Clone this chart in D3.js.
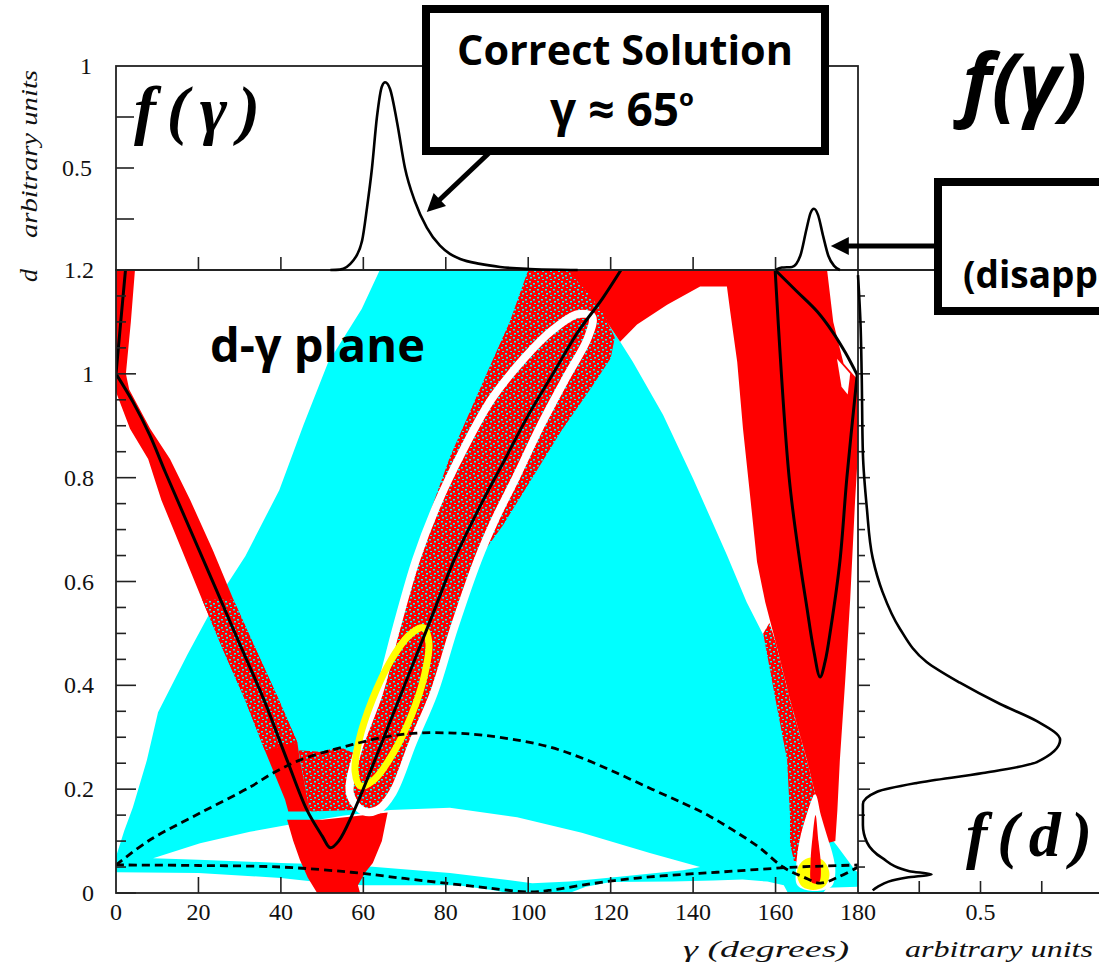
<!DOCTYPE html>
<html>
<head>
<meta charset="utf-8">
<script src="https://cdn.jsdelivr.net/npm/d3@7"></script>
<style>
  body { margin: 0; background: #fff; }
  svg { display: block; }
</style>
</head>
<body>
<div id="svg-holder"></div>
<script>
let width = 1099,
    height = 966

let svg = d3.select("#svg-holder").append('svg')
    .attr("width", width)
    .attr("height", height)

// ---------- data (gamma in degrees, d) ----------
const gammaTicks = [0, 20, 40, 60, 80, 100, 120, 140, 160, 180]
const dTicks = [0, 0.2, 0.4, 0.6, 0.8, 1, 1.2]
const fTopTicks = [0.5, 1]
const fRightTicks = [0.5]

// cyan allowed region
const cyanRegion = [[64,1.2],[108,1.2],[112,1.16],[117.4,1.12],[122.3,1.062],[125.4,1.023],[132.7,0.921],[140,0.798],
    [148.2,0.651],[153,0.56],[157.5,0.49],[161.9,0.41],[165,0.32],[168,0.24],[170.5,0.16],[172.5,0.115],[175,0.09],
    [179.3,0.044],[180,0.04],[180,0],[0,0],[0,0.07],[2,0.12],[4.1,0.165],[7.5,0.256],[10.2,0.348],[17.3,0.459],
    [24.3,0.562],[31.4,0.649],[39.6,0.776],[45.5,0.902],[51.4,1.021],[59.6,1.125]]
// white holes inside the cyan region
const whiteArch = [[9,0.067],[20.4,0.096],[32.5,0.118],[41.5,0.131],[55,0.149],[66.5,0.16],[81,0.164],[97.3,0.146],
    [113,0.116],[129.5,0.077],[141.7,0.05],[137.6,0.044],[121.5,0.031],[110,0.022],[101,0.019],[90,0.03],
    [81,0.0385],[57,0.054],[40,0.058],[20,0.064]]
const whiteBottomLeft = [[0,0],[0,0.04],[20,0.0385],[40,0.029],[50,0.02],[60,0.015],[83,0.015],[92,0.005],[95,0]]
const whiteBottomMid = [[110,0],[114,0.012],[120,0.021],[135,0.022],[145,0.024],[152,0.026],[158,0.022],[162,0.015],[163,0]]
const whiteBottomRight = [[171.5,0],[172.5,0.01],[180,0.012],[180,0]]

// red (solid) regions
const redLeft = [[0,1.2],[4.6,1.2],[3.6,1.1],[2.4,1.0],[3.2,0.97],[8.3,0.894],[13.1,0.836],[18,0.757],[23.5,0.66],
    [28.5,0.565],[34,0.468],[39.5,0.372],[44,0.29],[44.5,0.262],[46,0.2],[47,0.157],[41.8,0.157],[41,0.18],
    [36.1,0.275],[31.3,0.372],[26,0.468],[20.9,0.565],[16,0.66],[11,0.757],[7.8,0.836],[3.4,0.894],[0,0.965]]
const redWedge = [[41.5,0.141],[43,0.1],[44.6,0.064],[46.5,0.03],[48.8,0],[59.2,0],[58.7,0.015],[60.5,0.04],
    [62.3,0.058],[64.5,0.1],[65.9,0.155],[60,0.15],[50,0.141]]
const redRight = [[109.5,1.2],[172.5,1.2],[174,1.1],[176.5,1.02],[179.8,0.99],[180,0.99],[180,0.85],[179.3,0.757],
    [178.1,0.565],[176.9,0.41],[175.6,0.256],[175,0.16],[174.5,0.1],[172,0.095],[171,0.12],[169.6,0.19],
    [167.6,0.256],[163.5,0.372],[159.9,0.487],[157.5,0.56],[155.5,0.638],[153.8,0.767],[152.1,0.894],
    [150.7,1.023],[149,1.12],[148.2,1.168],[141.7,1.168],[133.7,1.133],[126.4,1.095],[122.3,1.062],[117.4,1.12],[112,1.17]]
const whiteHole = [[174.9,1.029],[178.1,1.0],[177.5,0.96],[176,0.975]]

// red (scattered) regions
const dotBand = [[60,0.158],[56.8,0.19],[58.5,0.27],[63.8,0.385],[68,0.51],[72.8,0.642],[76.5,0.74],[81,0.84],
    [86,0.93],[91,1.02],[95.5,1.1],[100,1.2],[109.5,1.2],[114,1.16],[118,1.12],[121,1.07],[120,1.03],[115,0.97],
    [108,0.89],[101,0.8],[94,0.71],[87.8,0.642],[82,0.51],[77.1,0.385],[72,0.29],[67.1,0.193],[63.5,0.16]]
const dotInner = [[44.3,0.275],[49.5,0.272],[54.3,0.281],[57.5,0.27],[56.5,0.2],[58,0.16],[47,0.157],[46,0.2]]
const dotRight = [[157,0.5],[160,0.372],[162.8,0.256],[163.5,0.15],[163.5,0.096],[164.5,0.06],[165.5,0.06],
    [166.5,0.12],[168.5,0.17],[169.6,0.19],[167.6,0.256],[163.5,0.372],[159.9,0.487],[158.5,0.52]]
const dotLeftBand = [[20.9,0.565],[28.5,0.565],[34,0.468],[39.5,0.372],[44,0.29],[36.1,0.275],[31.3,0.372],[26,0.468]]

// contours
const whiteRing = [[60,0.158],[56.8,0.19],[58.5,0.27],[63.8,0.385],[68,0.51],[72.8,0.642],[78,0.75],[84,0.85],
    [91,0.95],[99,1.03],[106,1.085],[112,1.115],[115.5,1.11],[114.5,1.07],[109,0.99],[103,0.9],[97,0.8],[92,0.72],
    [87.8,0.642],[82,0.51],[77.1,0.385],[72,0.29],[67.1,0.193],[63.5,0.16]]
const yellowRing = [[74.6,0.511],[75.9,0.483],[74.9,0.422],[71.7,0.343],[67.2,0.269],[62.7,0.219],[59.3,0.206],
    [58.0,0.234],[59.0,0.295],[62.2,0.373],[66.6,0.447],[71.2,0.497]]
const whiteDrop = [[169.6,0.19],[171,0.15],[172.5,0.11],[174,0.07],[174.5,0.04],[173.5,0.012],[169,0.004],
    [165.3,0.015],[165,0.05],[165.8,0.1],[167.5,0.15]]
const yellowSpot = [[169.1,0.069],[171.5,0.063],[172.9,0.045],[173,0.03],[171.8,0.012],[169.1,0.006],
    [166.5,0.012],[165.3,0.03],[165.4,0.048],[166.8,0.063]]
const redSpike = [[169.7,0.15],[170.4,0.1],[171,0.05],[170.5,0.02],[168.8,0.02],[168.5,0.06],[169,0.11]]

// black solution curves
const curveTopLeft = [[2.3,1.2],[1.0,1.087],[0,1.0]]
const curveLeftV = [[0,1.0],[4.1,0.946],[8.2,0.882],[12,0.81],[18,0.7],[24,0.59],[30,0.48],[36,0.37],[41.5,0.256],
    [46.3,0.16],[50,0.11],[52,0.087],[54,0.1],[57.5,0.154],[62,0.24],[67,0.34],[72,0.44],[77,0.54],[82,0.641],
    [88,0.74],[94,0.83],[100,0.92],[106,1.0],[112,1.08],[118,1.145],[122.5,1.2]]
const curveRightV = [[159.9,1.2],[163.3,0.8],[165.9,0.638],[167.6,0.55],[169.2,0.47],[170.8,0.416],[172,0.445],
    [173.4,0.51],[175.6,0.638],[177.3,0.8],[179.8,0.998]]
const curveRightTop = [[159.9,1.2],[165,1.16],[170.1,1.12],[173.9,1.08],[177,1.04],[179.8,0.998]]
// dashed curves
const dashUpper = [[0,0.054],[8.2,0.102],[20.4,0.154],[32.5,0.204],[38.1,0.231],[44.6,0.256],[55,0.281],[65,0.3],
    [73,0.308],[82,0.308],[89,0.304],[97,0.295],[105.3,0.281],[113,0.26],[121.5,0.231],[130,0.2],[137.6,0.173],
    [144,0.148],[149.7,0.121],[156,0.088],[161.8,0.05],[166.7,0.031],[170.8,0.019],[175,0.03],[180,0.05]]
const dashLower = [[0,0.054],[20,0.053],[40,0.05],[57,0.04],[70,0.028],[81,0.018],[90,0.01],[100.4,0.002],
    [106,0.006],[113,0.015],[121,0.024],[129.5,0.031],[138,0.036],[145.8,0.04],[155,0.045],[165,0.05],[172,0.052],[180,0.054]]

// projections
const fGammaMain = [[52,0],[54.3,0.002],[57.5,0.045],[59.7,0.144],[60.9,0.307],[62.1,0.5],[63.3,0.75],[64.5,0.9],
    [65.3,0.92],[66.5,0.886],[68.2,0.722],[70.1,0.5],[72.5,0.337],[75.4,0.208],[78.6,0.119],[81,0.079],[83.5,0.054],
    [88.3,0.03],[93.2,0.015],[100.4,0.005],[107.7,0.001],[112,0]]
const fGammaSecond = [[160,0],[161.5,0.012],[164,0.015],[166,0.07],[167.5,0.2],[168.5,0.28],[169.3,0.3],[170.3,0.27],
    [171.5,0.17],[172.8,0.07],[174.2,0.02],[175.6,0]]
const fD = [[1.19,0],[1.1,0.01],[1.0,0.015],[0.846,0.02],[0.742,0.036],[0.645,0.06],[0.58,0.1],[0.509,0.171],
    [0.445,0.28],[0.405,0.416],[0.364,0.58],[0.331,0.73],[0.295,0.825],[0.252,0.73],[0.231,0.51],[0.212,0.24],
    [0.195,0.078],[0.171,0.02],[0.131,0.02],[0.098,0.036],[0.067,0.1],[0.042,0.21],[0.036,0.3],[0.03,0.2],[0.012,0.08],[0.005,0.06]]

// ---------- scales ----------
let x = d3.scaleLinear().domain([0,180]).range([116,858])
let y = d3.scaleLinear().domain([0,1.2]).range([893,270])
let yTop = d3.scaleLinear().domain([0,1]).range([270,66])
let xRight = d3.scaleLinear().domain([0,1]).range([858,1103])

let poly = d3.line().x(p => x(p[0])).y(p => y(p[1]))
let closed = d3.line().x(p => x(p[0])).y(p => y(p[1])).curve(d3.curveCatmullRomClosed)
let smooth = d3.line().x(p => x(p[0])).y(p => y(p[1])).curve(d3.curveCatmullRom)

let defs = svg.append('defs')
defs.append('clipPath').attr('id','mainClip')
    .append('rect').attr('x', x(0)).attr('y', y(1.2)).attr('width', x(180)-x(0)).attr('height', y(0)-y(1.2))

// red scatter with cyan gaps
let pat = defs.append('pattern').attr('id','speck').attr('patternUnits','userSpaceOnUse')
    .attr('width', 8).attr('height', 8)
pat.append('rect').attr('width',8).attr('height',8).attr('fill','#ff0000')
;[[1,1],[5,3],[2,5],[6,7]].forEach(p => {
    pat.append('rect').attr('x',p[0]).attr('y',p[1]).attr('width',2).attr('height',1.5).attr('fill','#00ffff')
})

defs.append('marker').attr('id','arrow')
    .attr('viewBox','0 0 10 10').attr('refX',6).attr('refY',5)
    .attr('markerWidth',4).attr('markerHeight',3.6).attr('orient','auto')
    .append('path').attr('d','M0,0L10,5L0,10z').attr('fill','black')

// ---------- d-gamma plane ----------
let plane = svg.append('g').attr('clip-path','url(#mainClip)')

plane.append('path').attr('d', poly(cyanRegion) + 'Z').attr('fill','#00ffff')
;[whiteArch, whiteBottomLeft, whiteBottomMid, whiteBottomRight].forEach(r => {
    plane.append('path').attr('d', poly(r) + 'Z').attr('fill','#ffffff')
})
;[redLeft, redWedge, redRight].forEach(r => {
    plane.append('path').attr('d', poly(r) + 'Z').attr('fill','#ff0000')
})
plane.append('path').attr('d', poly(whiteHole) + 'Z').attr('fill','#ffffff')
;[dotBand, dotInner, dotRight, dotLeftBand].forEach(r => {
    plane.append('path').attr('d', poly(r) + 'Z').attr('fill','url(#speck)')
})

plane.append('path').attr('d', closed(whiteRing))
    .attr('fill','none').attr('stroke','#ffffff').attr('stroke-width',8)
plane.append('path').attr('d', closed(yellowRing))
    .attr('fill','none').attr('stroke','#ffff00').attr('stroke-width',7)

plane.append('path').attr('d', closed(whiteDrop)).attr('fill','#ffffff')
plane.append('path').attr('d', closed(yellowSpot)).attr('fill','#ffff00')
plane.append('path').attr('d', closed(redSpike)).attr('fill','#ff0000')

;[curveTopLeft, curveLeftV, curveRightV, curveRightTop].forEach(c => {
    plane.append('path').attr('d', smooth(c))
        .attr('fill','none').attr('stroke','black').attr('stroke-width',3)
})
;[dashUpper, dashLower].forEach(c => {
    plane.append('path').attr('d', smooth(c))
        .attr('fill','none').attr('stroke','black').attr('stroke-width',2.8)
        .attr('stroke-dasharray','8,5')
})

// ---------- frames & ticks ----------
let frame = svg.append('g').attr('fill','none').attr('stroke','#222').attr('stroke-width',1.8)
frame.append('rect').attr('x', x(0)).attr('y', y(1.2)).attr('width', x(180)-x(0)).attr('height', y(0)-y(1.2))
frame.append('rect').attr('x', x(0)).attr('y', yTop(1)).attr('width', x(180)-x(0)).attr('height', yTop(0)-yTop(1))
frame.append('line').attr('x1', x(180)).attr('x2', width).attr('y1', y(0)).attr('y2', y(0))
frame.append('line').attr('x1', x(180)).attr('x2', width).attr('y1', y(1.2)).attr('y2', y(1.2))

let ticks = svg.append('g').attr('stroke','#222').attr('stroke-width',1.6)
gammaTicks.slice(1, -1).forEach(g => {
    ticks.append('line').attr('x1', x(g)).attr('x2', x(g)).attr('y1', y(0)).attr('y2', y(0) - 16)
    ticks.append('line').attr('x1', x(g)).attr('x2', x(g)).attr('y1', yTop(0)).attr('y2', yTop(0) - 13)
})
d3.range(0, 1.2001, 0.05).forEach(v => {
    let major = Math.abs(v / 0.2 - Math.round(v / 0.2)) < 1e-6
    ticks.append('line').attr('x1', x(0)).attr('x2', x(0) + (major ? 20 : 10)).attr('y1', y(v)).attr('y2', y(v))
    ticks.append('line').attr('x1', x(180)).attr('x2', x(180) + (major ? 12 : 7)).attr('y1', y(v)).attr('y2', y(v))
})
;[0.25, 0.5, 0.75].forEach(v => {
    ticks.append('line').attr('x1', x(0)).attr('x2', x(0) + 18).attr('y1', yTop(v)).attr('y2', yTop(v))
    ticks.append('line').attr('x1', xRight(v)).attr('x2', xRight(v)).attr('y1', y(0)).attr('y2', y(0) - 12)
})

// ---------- projections ----------
let topLine = d3.line().x(p => x(p[0])).y(p => yTop(p[1])).curve(d3.curveMonotoneX)
;[fGammaMain, fGammaSecond].forEach(c => {
    svg.append('path').attr('d', topLine(c))
        .attr('fill','none').attr('stroke','black').attr('stroke-width',2.6)
})
let rightLine = d3.line().x(p => xRight(p[1])).y(p => y(p[0])).curve(d3.curveMonotoneY)
svg.append('path').attr('d', rightLine(fD))
    .attr('fill','none').attr('stroke','black').attr('stroke-width',2.6)

// ---------- tick labels ----------
let labels = svg.append('g').attr('font-family','"Liberation Serif", serif').attr('font-size',24).attr('fill','#111')
gammaTicks.forEach(g => {
    labels.append('text').attr('x', x(g)).attr('y', 920).attr('text-anchor','middle').text(g)
})
fRightTicks.forEach(v => {
    labels.append('text').attr('x', xRight(v)).attr('y', 920).attr('text-anchor','middle').text(v)
})
dTicks.forEach(v => {
    labels.append('text').attr('x', 94).attr('y', y(v) + 8).attr('text-anchor','end').text(v)
})
fTopTicks.forEach(v => {
    labels.append('text').attr('x', 92).attr('y', yTop(v) + 8).attr('text-anchor','end').text(v)
})

// axis titles
let titles = svg.append('g').attr('font-family','"Liberation Serif", serif').attr('font-size',23)
    .attr('font-style','italic').attr('fill','#111')
titles.append('text').attr('x', 683).attr('y', 957)
    .attr('textLength', 166).attr('lengthAdjust','spacingAndGlyphs').text('γ  (degrees)')
titles.append('text').attr('x', 905).attr('y', 957)
    .attr('textLength', 188).attr('lengthAdjust','spacingAndGlyphs').text('arbitrary units')
titles.append('text').attr('transform','translate(37,238) rotate(-90)')
    .attr('textLength', 168).attr('lengthAdjust','spacingAndGlyphs').text('arbitrary units')
titles.append('text').attr('transform','translate(37,282) rotate(-90)').attr('font-size',26).text('d')

// ---------- annotations ----------
let bigSerif = svg.append('g').attr('font-family','"Liberation Serif", serif')
    .attr('font-weight','bold').attr('font-style','italic').attr('fill','black')
bigSerif.append('text').attr('x', 134).attr('y', 132).attr('font-size', 66)
    .attr('textLength', 126).attr('lengthAdjust','spacing').text('f(γ)')
bigSerif.append('text').attr('x', 966).attr('y', 856).attr('font-size', 64)
    .attr('textLength', 126).attr('lengthAdjust','spacing').text('f(d)')

let comic = '"Comic Sans MS", "Open Sans", sans-serif'
svg.append('text').attr('x', 210).attr('y', 362)
    .attr('font-family', comic).attr('font-weight','bold').attr('font-size', 47).text('d-γ plane')

svg.append('text').attr('x', 962).attr('y', 111)
    .attr('font-family', comic).attr('font-weight','bold').attr('font-style','italic').attr('font-size', 80).text('f(γ)')

svg.append('rect').attr('x', 426).attr('y', 9).attr('width', 399).attr('height', 142)
    .attr('fill','white').attr('stroke','black').attr('stroke-width', 8)
svg.append('text').attr('x', 625).attr('y', 65).attr('text-anchor','middle')
    .attr('font-family', comic).attr('font-weight','bold').attr('font-size', 42)
    .attr('textLength', 336).attr('lengthAdjust','spacingAndGlyphs').text('Correct Solution')
let g65 = svg.append('text').attr('x', 622).attr('y', 126).attr('text-anchor','middle')
    .attr('font-family', comic).attr('font-weight','bold').attr('font-size', 46)
g65.append('tspan').text('γ ≈ 65')
g65.append('tspan').attr('font-size', 24).attr('dy', -20).text('o')

svg.append('line').attr('x1', 489).attr('y1', 153).attr('x2', 432).attr('y2', 207)
    .attr('stroke','black').attr('stroke-width', 5).attr('marker-end','url(#arrow)')

svg.append('rect').attr('x', 938).attr('y', 182).attr('width', 220).attr('height', 129)
    .attr('fill','white').attr('stroke','black').attr('stroke-width', 8)
svg.append('text').attr('x', 963).attr('y', 288)
    .attr('font-family', comic).attr('font-weight','bold').attr('font-size', 37).text('(disappears)')
svg.append('line').attr('x1', 934).attr('y1', 246).attr('x2', 838).attr('y2', 246)
    .attr('stroke','black').attr('stroke-width', 5).attr('marker-end','url(#arrow)')
</script>
</body>
</html>
